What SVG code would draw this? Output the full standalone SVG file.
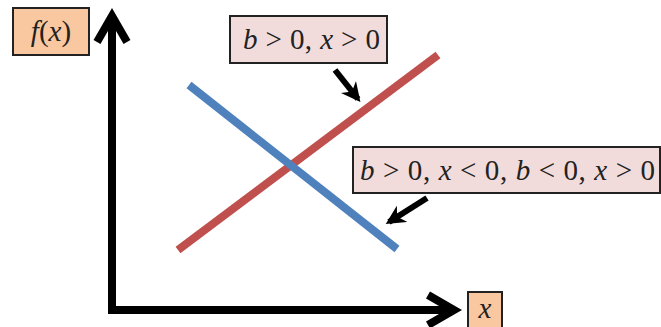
<svg xmlns="http://www.w3.org/2000/svg" width="661" height="327" viewBox="0 0 661 327">
<style>
.axis{fill:none;stroke:#000;stroke-width:8;stroke-linecap:butt;stroke-linejoin:miter}
.t{font-family:'Liberation Serif',serif;font-size:29px;fill:#222}
.v{font-style:italic}
.orange{fill:#fac8a0;stroke:#222;stroke-width:2}
.pink{fill:#f2dcdb;stroke:#222;stroke-width:2}
.ptr{stroke:#000;stroke-width:6;fill:none}
</style>
<defs>
<marker id="ah" viewBox="0 0 10 10" refX="8" refY="5" markerWidth="3.2" markerHeight="3.2" orient="auto">
<path d="M0,0 L10,5 L0,10 L3,5 Z" fill="#000"/>
</marker>
</defs>
<rect width="661" height="327" fill="#fff"/>
<g id="connectors">
<line x1="178" y1="250" x2="438" y2="55" stroke="#c0504d" stroke-width="8"/>
<line x1="189" y1="85" x2="397" y2="249" stroke="#4f81bd" stroke-width="8"/>
<path class="axis" d="M112,310 L112,16"/>
<path class="axis" d="M97,42 L112,16 L127,42"/>
<path class="axis" d="M108,310 L452,310"/>
<path class="axis" d="M428,295 L454,310 L428,325"/>
<line class="ptr" x1="335" y1="70" x2="358" y2="99" marker-end="url(#ah)"/>
<line class="ptr" x1="427" y1="198" x2="389" y2="222" marker-end="url(#ah)"/>
</g>
<g id="fx">
<rect class="orange" x="13" y="8" width="76" height="47"/>
<text class="t" x="51" y="41" text-anchor="middle"><tspan class="v">f</tspan>(<tspan class="v">x</tspan>)</text>
</g>
<g id="xlabel">
<rect class="orange" x="468" y="292" width="34" height="36"/>
<text class="t" x="485" y="318" text-anchor="middle"><tspan class="v">x</tspan></text>
</g>
<g id="label1">
<rect class="pink" x="230" y="16" width="157" height="47"/>
<text class="t" x="243" y="49" textLength="137" lengthAdjust="spacing"><tspan class="v">b</tspan> &gt; 0, <tspan class="v">x</tspan> &gt; 0</text>
</g>
<g id="label2">
<rect class="pink" x="353" y="147" width="307" height="46"/>
<text class="t" x="360" y="180" textLength="295" lengthAdjust="spacing"><tspan class="v">b</tspan> &gt; 0, <tspan class="v">x</tspan> &lt; 0, <tspan class="v">b</tspan> &lt; 0, <tspan class="v">x</tspan> &gt; 0</text>
</g>
</svg>
